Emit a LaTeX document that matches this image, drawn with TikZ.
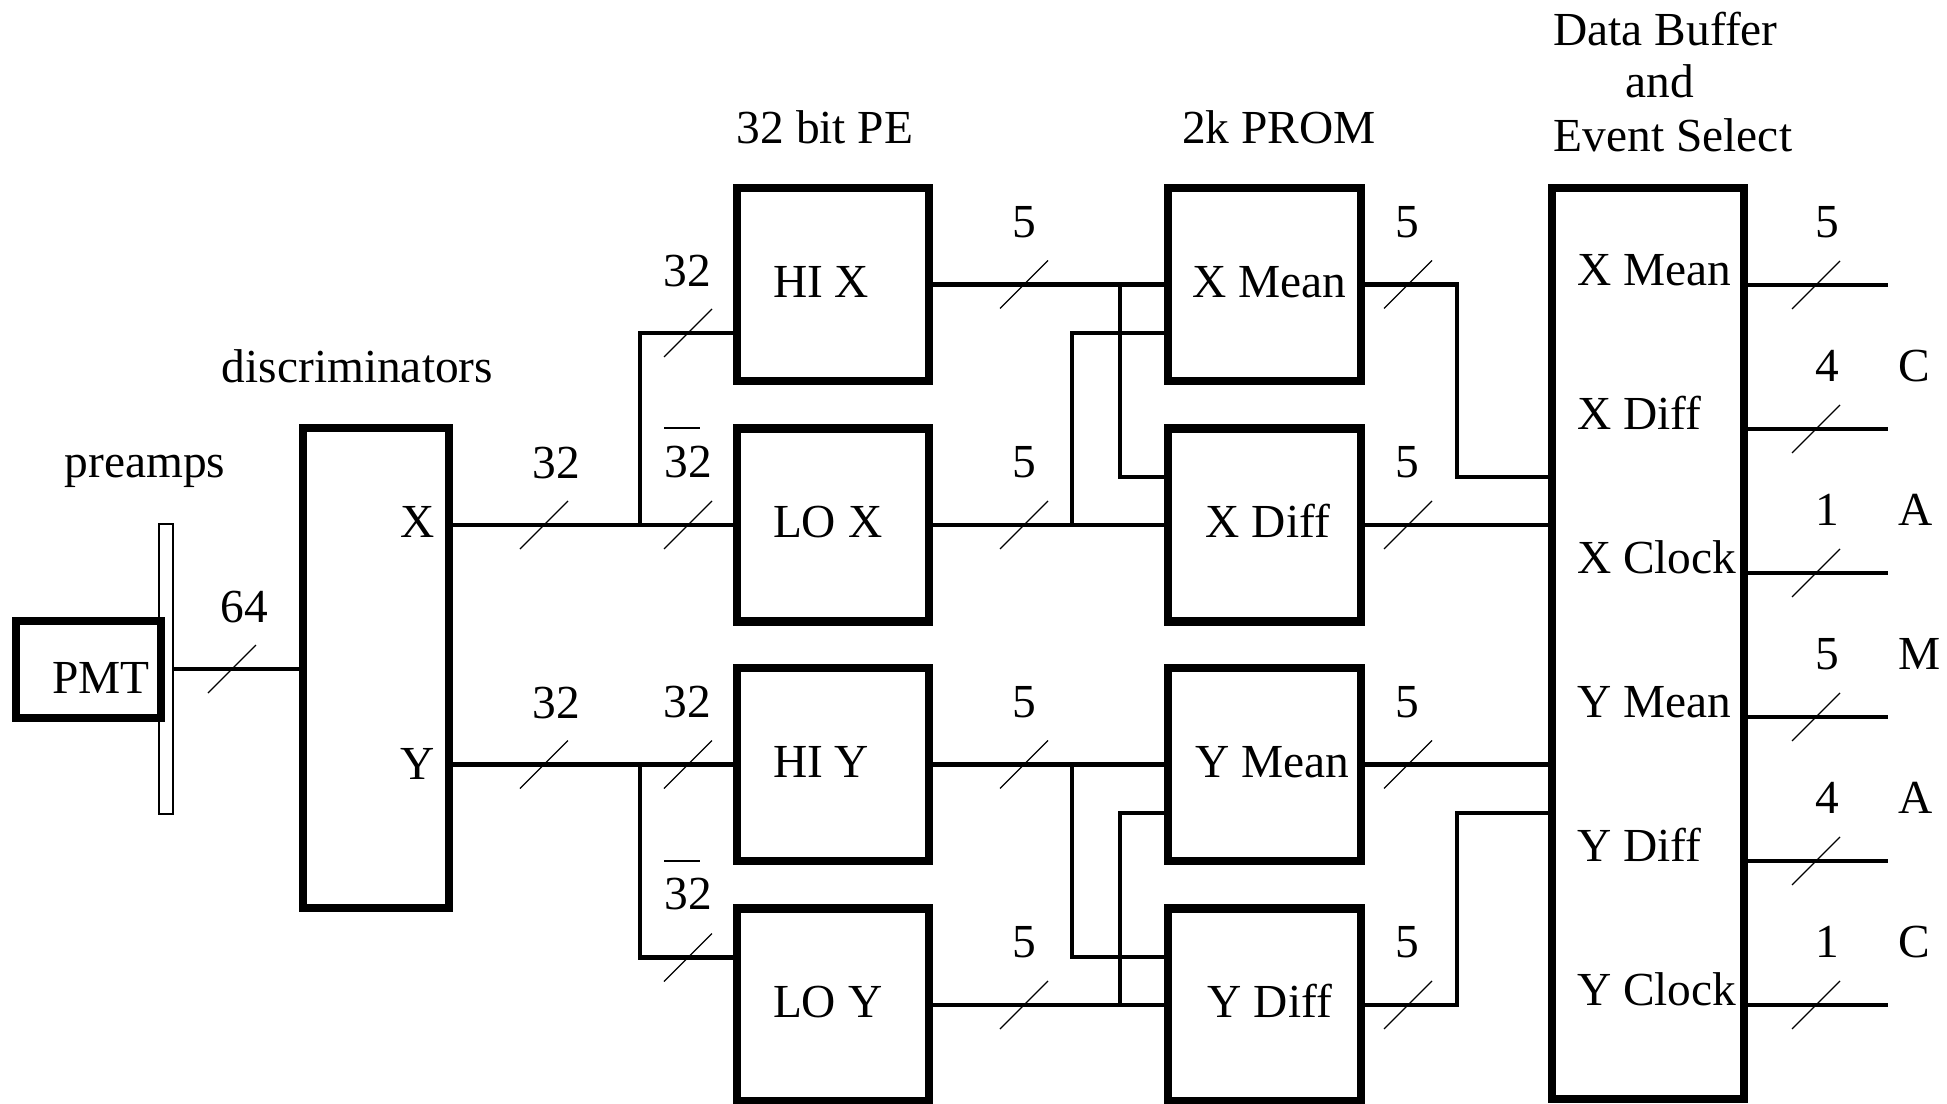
\documentclass[tikz,border=0pt]{standalone}
\usepackage{fontspec}
\setmainfont{Liberation Serif}
\usetikzlibrary{calc}
\newcommand\dfnt{\fontsize{23.7}{28}\selectfont}
\begin{document}
\begin{tikzpicture}[x=0.5pt,y=-0.5pt,
  blk/.style={draw, line width=4.15pt, inner sep=0pt, outer sep=0pt, rectangle},
  pebox/.style={blk, minimum width=96pt, minimum height=96.5pt},
  prombox/.style={blk, minimum width=96.5pt, minimum height=96.5pt},
  wire/.style={line width=2.15pt},
  bustick/.style={line width=0.6pt},
  ovl/.style={line width=0.75pt},
  txt/.style={inner sep=0pt, outer sep=0pt, font=\dfnt},
  lbl/.style={txt, anchor=base},
  lblw/.style={txt, anchor=base west}]
\useasboundingbox (0,0) rectangle (1947,1103);

% ---- blocks
\node[draw, line width=1pt, inner sep=0pt, outer sep=0pt, minimum width=7pt, minimum height=145pt] (bar) at (166,669) {};
\node[blk, minimum width=72.5pt, minimum height=48.5pt] (pmt) at (88.5,669.5) {};
\node[blk, minimum width=73pt, minimum height=240pt] (disc) at (376,668) {};
\node[pebox] (hix) at (833,284.5) {};
\node[pebox] (lox) at (833,525) {};
\node[pebox] (hiy) at (833,764.5) {};
\node[pebox] (loy) at (833,1005) {};
\node[prombox] (xmean) at (1264.5,284.5) {};
\node[prombox] (xdiff) at (1264.5,525) {};
\node[prombox] (ymean) at (1264.5,764.5) {};
\node[prombox] (ydiff) at (1264.5,1005) {};
\node[blk, minimum width=96pt, minimum height=455.5pt] (db) at (1648,643.5) {};

% ---- helper coordinates
\coordinate (xs) at (640,0);
\coordinate (va) at (1120,0);
\coordinate (vb) at (1072,0);
\coordinate (vc) at (1457,0);

% ---- wires
\draw[wire] (bar.east) -- (bar.east -| disc.west);
\draw[wire] (lox.west -| disc.east) -- (lox.west);
\draw[wire] (lox.west -| xs) |- ($(hix.west)+(0,48.5)$);
\draw[wire] (hiy.west -| disc.east) -- (hiy.west);
\draw[wire] (hiy.west -| xs) |- ($(loy.west)+(0,-47.5)$);

\draw[wire] (hix.east) -- (xmean.west);
\draw[wire] (lox.east) -- (xdiff.west);
\draw[wire] (hiy.east) -- (ymean.west);
\draw[wire] (loy.east) -- (ydiff.west);

\draw[wire] (hix.east -| va) |- ($(xdiff.west)+(0,-48)$);
\draw[wire] (lox.east -| vb) |- ($(xmean.west)+(0,48.5)$);
\draw[wire] (hiy.east -| vb) |- ($(ydiff.west)+(0,-48)$);
\draw[wire] (loy.east -| va) |- ($(ymean.west)+(0,48.5)$);

\coordinate (dbi1) at ($(db.west |- xdiff.west)+(0,-48)$);
\coordinate (dbi4) at ($(db.west |- ymean.west)+(0,48.5)$);
\draw[wire] (xmean.east) -| (vc |- dbi1) -- (dbi1);
\draw[wire] (xdiff.east) -- (db.west |- xdiff.east);
\draw[wire] (ymean.east) -- (db.west |- ymean.east);
\draw[wire] (ydiff.east) -| (vc |- dbi4) -- (dbi4);

\foreach \i/\yy in {1/285,2/429,3/573,4/717,5/861,6/1005} {
  \coordinate (o\i) at (1888,\yy);
  \draw[wire] (db.east |- o\i) -- (o\i);
}

% ---- bus ticks
\foreach \tx/\ty in {232/669, 544/525, 688/525, 688/333, 544/764.5, 688/764.5, 688/957.5,
  1024/284.5, 1024/525, 1024/764.5, 1024/1005,
  1408/284.5, 1408/525, 1408/764.5, 1408/1005,
  1816/285, 1816/429, 1816/573, 1816/717, 1816/861, 1816/1005}
  \draw[bustick] (\tx,\ty) +(-24,24) -- +(24,-24);

% ---- overlines of the inverted 32
\draw[ovl] (664,428) -- (700,428);
\draw[ovl] (664,861) -- (700,861);

% ---- texts
\node[lbl] (tpmt) at (101,693) {PMT};
\node[lbl] (tpre) at (145,477) {preamps};
\node[lbl] (tdisc) at (357.5,382) {discriminators};
\node[lbl] (tx) at (417.5,537) {X};
\node[lbl] (ty) at (417.5,779) {Y};
\node[lbl] (tpe) at (825,143) {32 bit PE};
\node[lbl] (tprom) at (1279,143) {2k PROM};
\node[lbl] (tdb1) at (1665.5,45) {Data Buffer};
\node[lbl] (tdb2) at (1659.5,97) {and};
\node[lbl] (tdb3) at (1673,151) {Event Select};

\node[lbl] (n64) at (244,622) {64};
\node[lbl] (n32a) at (556,478) {32};
\node[lbl] (n32b) at (556,718) {32};
\node[lbl] (n32c) at (687,286) {32};
\node[lbl] (n32d) at (688,477) {32};
\node[lbl] (n32e) at (687,717) {32};
\node[lbl] (n32f) at (688,909) {32};

\node[lbl] (n5a) at (1024,237) {5};
\node[lbl] (n5b) at (1024,477) {5};
\node[lbl] (n5c) at (1024,717) {5};
\node[lbl] (n5d) at (1024,957) {5};
\node[lbl] (n5e) at (1407,237) {5};
\node[lbl] (n5f) at (1407,477) {5};
\node[lbl] (n5g) at (1407,717) {5};
\node[lbl] (n5h) at (1407,957) {5};

\node[lbl] (m1) at (1827,237) {5};
\node[lbl] (m2) at (1827,381) {4};
\node[lbl] (m3) at (1827,525) {1};
\node[lbl] (m4) at (1827,669) {5};
\node[lbl] (m5) at (1827,813) {4};
\node[lbl] (m6) at (1827,957) {1};
\node[lblw] (c2) at (1898,381) {C};
\node[lblw] (c3) at (1898,525) {A};
\node[lblw] (c4) at (1898,669) {M};
\node[lblw] (c5) at (1898,813) {A};
\node[lblw] (c6) at (1898,957) {C};

\node[lblw] (thix) at (773,297) {HI X};
\node[lblw] (tlox) at (773,537) {LO X};
\node[lblw] (thiy) at (773,777) {HI Y};
\node[lblw] (tloy) at (773,1017) {LO Y};

\node[lbl] (txm) at (1269.5,297) {X Mean};
\node[lbl] (txd) at (1268,537) {X Diff};
\node[lbl] (tym) at (1272,777) {Y Mean};
\node[lbl] (tyd) at (1270,1017) {Y Diff};

\node[lblw] (d1) at (1577,285) {X Mean};
\node[lblw] (d2) at (1577,429) {X Diff};
\node[lblw] (d3) at (1577,573) {X Clock};
\node[lblw] (d4) at (1577,717) {Y Mean};
\node[lblw] (d5) at (1577,861) {Y Diff};
\node[lblw] (d6) at (1577,1005) {Y Clock};
\end{tikzpicture}
\end{document}
